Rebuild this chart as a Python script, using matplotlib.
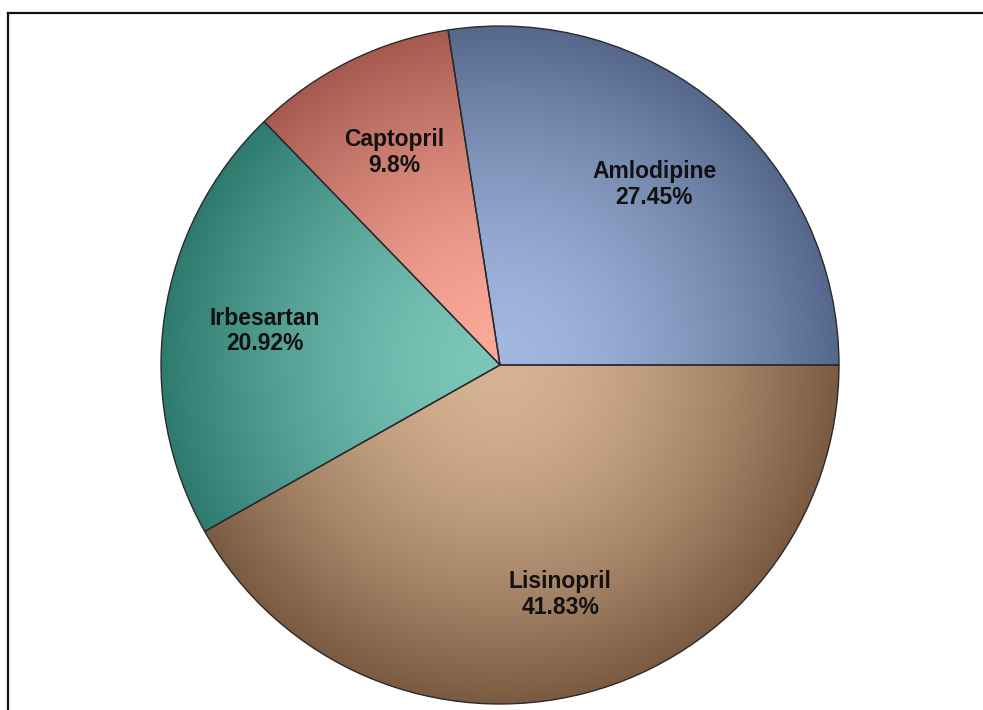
import numpy as np
import matplotlib.pyplot as plt
from matplotlib.colors import to_rgb
from matplotlib.lines import Line2D

# drug share data
drugs = ['Amlodipine', 'Captopril', 'Irbesartan', 'Lisinopril']
shares = [27.45, 9.8, 20.92, 41.83]

# radial gradient: light colour at the centre, dark at the rim
inner_colors = ['#a3b8e0', '#fca99a', '#7cc6ba', '#d6b393']
outer_colors = ['#55688b', '#a65a4f', '#2e7a6f', '#7a5b41']

W, H, DPI = 983, 710, 100
fig = plt.figure(figsize=(W / DPI, H / DPI), dpi=DPI)
fig.patch.set_facecolor('white')

# pie area in pixels
cx, cy, r = 500, 365, 340
ax = fig.add_axes([(cx - r) / W, (H - cy - r) / H, 2 * r / W, 2 * r / H])

wedges, _ = ax.pie(shares, startangle=0, counterclock=True, radius=1,
                   colors=['none'] * len(shares),
                   wedgeprops=dict(edgecolor='#2a2a2a', linewidth=1.0))
ax.set_xlim(-1, 1)
ax.set_ylim(-1, 1)
ax.set_aspect('equal')
ax.axis('off')

n = 600
xs = np.linspace(-1, 1, n)
X, Y = np.meshgrid(xs, xs)
t = np.clip(np.sqrt(X ** 2 + Y ** 2), 0, 1)[..., None] ** 1.6

for w, c_in, c_out in zip(wedges, inner_colors, outer_colors):
    a = np.array(to_rgb(c_in))
    b = np.array(to_rgb(c_out))
    img = a + (b - a) * t
    im = ax.imshow(img, extent=[-1, 1, -1, 1], origin='lower',
                   interpolation='bilinear', zorder=0.5)
    im.set_clip_path(w)
    w.set_zorder(1)

ax.set_xlim(-1.003, 1.003)
ax.set_ylim(-1.003, 1.003)

for w, name, val in zip(wedges, drugs, shares):
    mid = np.deg2rad((w.theta1 + w.theta2) / 2)
    ax.text(0.7 * np.cos(mid), 0.7 * np.sin(mid), f'{name}\n{val:g}%',
            ha='center', va='center', fontsize=16.5, fontweight='bold',
            family='Liberation Sans', color='#111111', linespacing=1.15,
            zorder=3)

# outer frame (left and top edges)
fig.add_artist(Line2D([8 / W, 8 / W], [0, 1 - 12.5 / H], transform=fig.transFigure,
                      color='#111111', lw=1.6))
fig.add_artist(Line2D([8 / W, 1], [1 - 12.5 / H, 1 - 12.5 / H], transform=fig.transFigure,
                      color='#111111', lw=1.6))

fig.savefig('out.png', dpi=DPI)
